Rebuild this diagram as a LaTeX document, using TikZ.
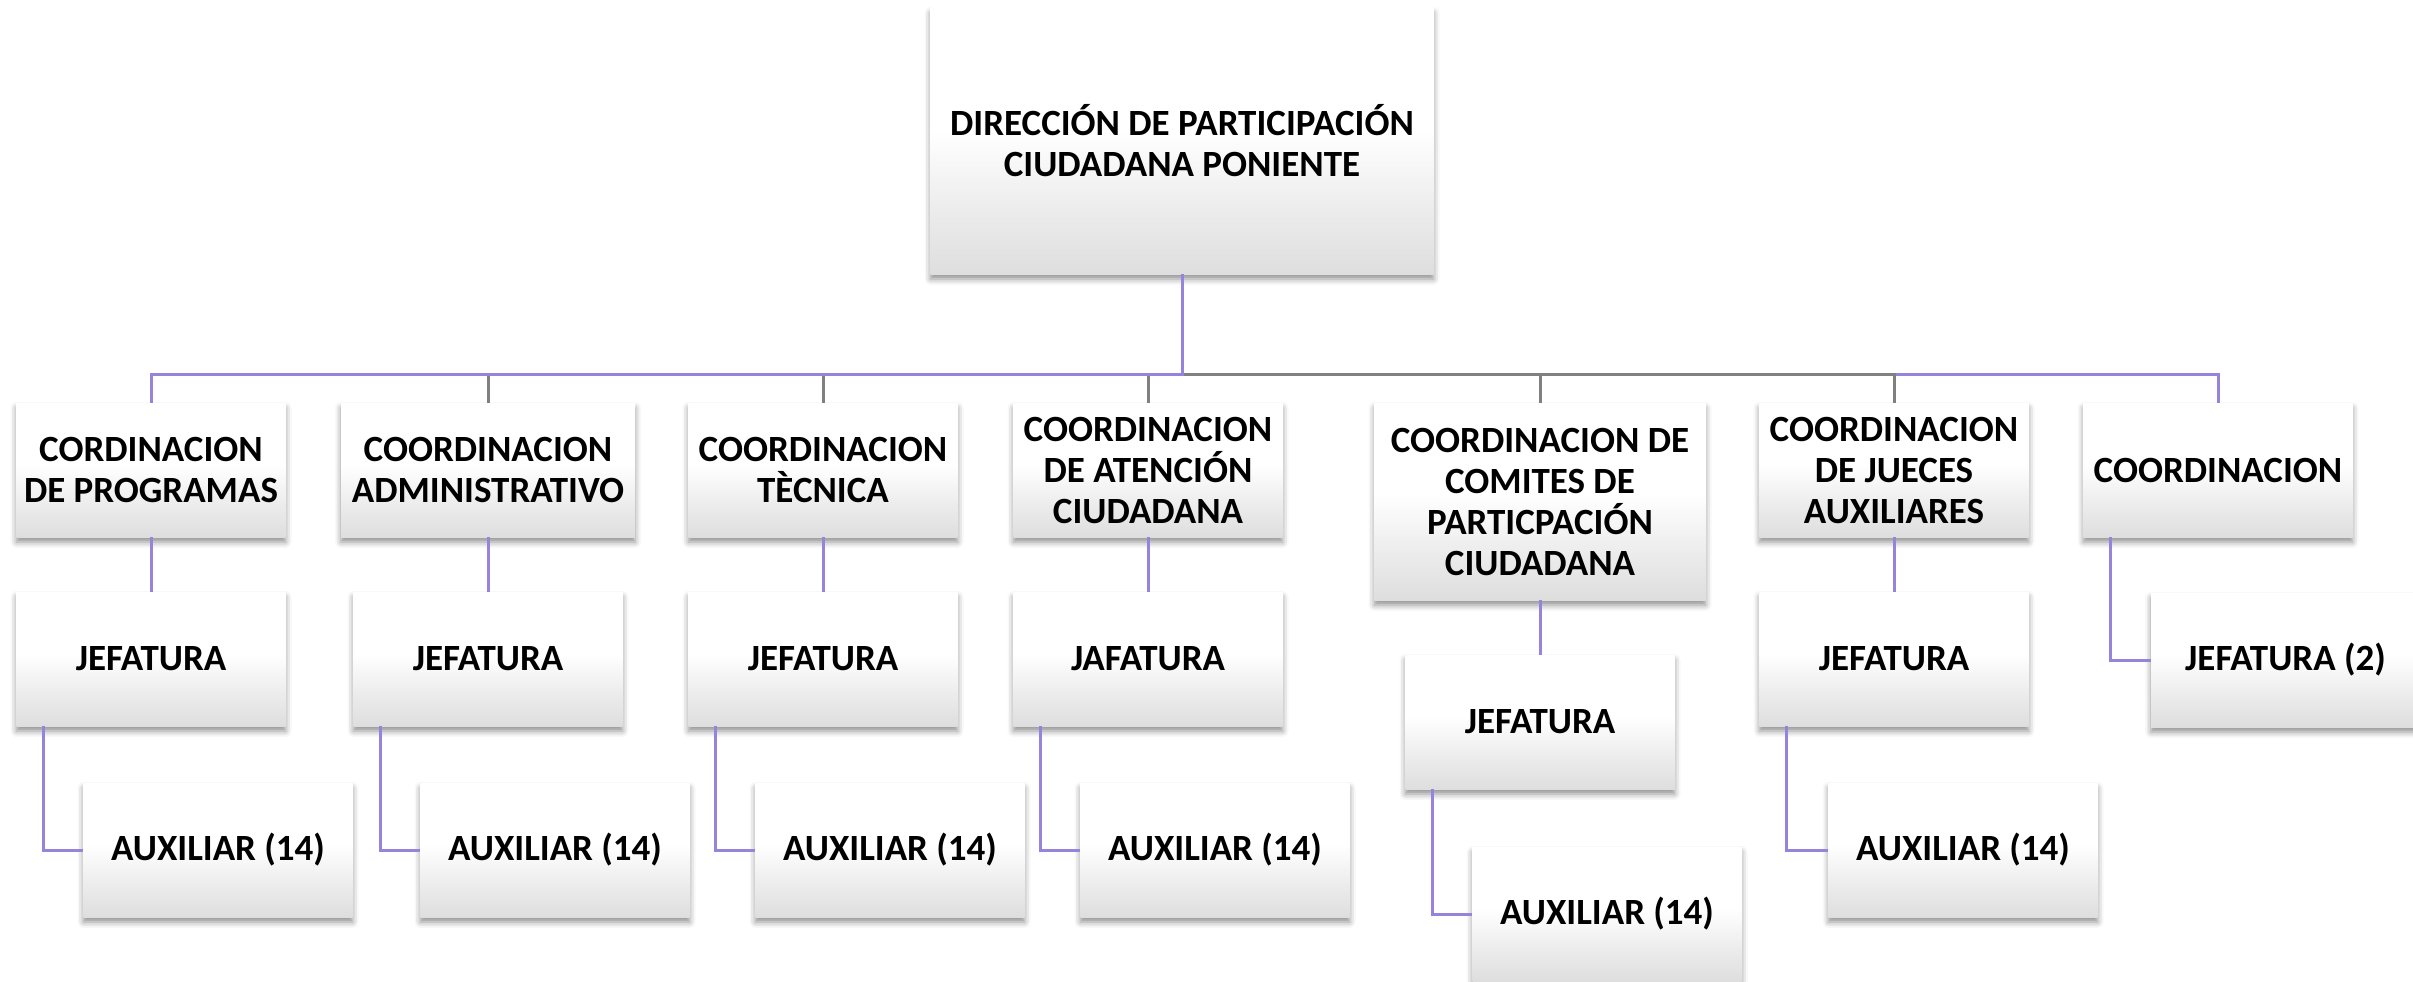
\documentclass[tikz,border=0pt]{standalone}
\usepackage{fontspec}
\setmainfont{Carlito}
\usetikzlibrary{shadows.blur}
\definecolor{purp}{RGB}{150,131,219}
\definecolor{greyline}{RGB}{128,128,128}
\definecolor{shadeg}{RGB}{222,222,222}
\definecolor{shadem}{RGB}{236,236,236}
\pgfdeclareverticalshading{boxshade}{100bp}{color(0bp)=(shadeg); color(25bp)=(shadeg); color(37bp)=(shadem); color(52bp)=(white); color(100bp)=(white)}
\tikzset{
  orgbox/.style={rectangle, draw=none, shading=boxshade, align=center,
    minimum width=269pt, minimum height=134pt, inner sep=4pt,
    font=\bfseries\fontsize{37}{41}\selectfont, text=black,
    blur shadow={shadow xshift=0pt, shadow yshift=-5pt, shadow blur radius=6pt, shadow opacity=45}},
  plink/.style={draw=purp, line width=3pt},
  glink/.style={draw=greyline, line width=3pt},
}
\begin{document}
\begin{tikzpicture}[x=1pt,y=-1pt]
\useasboundingbox (0,0) rectangle (2413,982);
\coordinate (bus) at (0,374);
% top
\node[orgbox, minimum width=503pt, minimum height=266pt] (top) at (1182,141) {DIRECCIÓN DE PARTICIPACIÓN\\CIUDADANA PONIENTE};
% level 2
\node[orgbox] (c1) at (151,470) {CORDINACION\\DE PROGRAMAS};
\node[orgbox, minimum width=294pt] (c2) at (488,470) {COORDINACION\\ADMINISTRATIVO};
\node[orgbox] (c3) at (823,470) {COORDINACION\\TÈCNICA};
\node[orgbox] (c4) at (1148,470) {COORDINACION\\DE ATENCIÓN\\CIUDADANA};
\node[orgbox, minimum width=331pt, minimum height=197pt] (c5) at (1540,501.5) {COORDINACION DE\\COMITES DE\\PARTICPACIÓN\\CIUDADANA};
\node[orgbox] (c6) at (1894,470) {COORDINACION\\DE JUECES\\AUXILIARES};
\node[orgbox] (c7) at (2218,470) {COORDINACION};
% level 3
\node[orgbox] (j1) at (151,659) {JEFATURA};
\node[orgbox] (j2) at (488,659) {JEFATURA};
\node[orgbox] (j3) at (823,659) {JEFATURA};
\node[orgbox] (j4) at (1148,659) {JAFATURA};
\node[orgbox] (j5) at (1540,722) {JEFATURA};
\node[orgbox] (j6) at (1894,659) {JEFATURA};
\node[orgbox] (j7) at (2285.5,660) {JEFATURA (2)};
% level 4
\node[orgbox] (a1) at (218,850) {AUXILIAR (14)};
\node[orgbox] (a2) at (555,850) {AUXILIAR (14)};
\node[orgbox] (a3) at (890,850) {AUXILIAR (14)};
\node[orgbox] (a4) at (1215,850) {AUXILIAR (14)};
\node[orgbox] (a5) at (1607,914) {AUXILIAR (14)};
\node[orgbox] (a6) at (1963,850) {AUXILIAR (14)};
% bus connectors
\draw[plink] (top.south) -- (top.south |- bus) -| (c7.north);
\foreach \c in {c2,c3,c4,c5,c6}{
  \draw[glink] (top.south) -- (top.south |- bus) -| (\c.north);
}
\draw[plink] (top.south) -- (top.south |- bus) -| (c1.north);
% level 2 -> 3
\foreach \i in {1,...,6}{
  \draw[plink] (c\i.south) -- (j\i.north);
}
\draw[plink] ([xshift=27pt]c7.south west) |- (j7.west);
% level 3 -> 4
\foreach \i in {1,...,6}{
  \draw[plink] ([xshift=27pt]j\i.south west) |- (a\i.west);
}
\end{tikzpicture}
\end{document}
